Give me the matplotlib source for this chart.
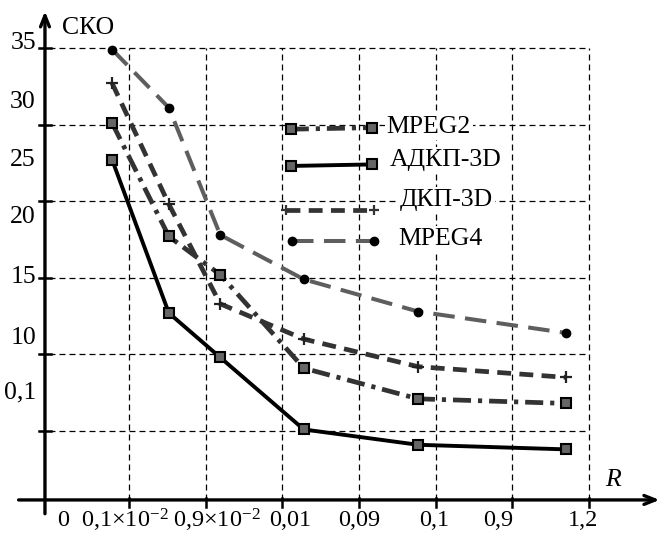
import matplotlib
matplotlib.use('Agg')
import matplotlib.pyplot as plt

plt.rcParams['font.family'] = ['Liberation Serif', 'DejaVu Serif']
plt.rcParams['mathtext.fontset'] = 'custom'
plt.rcParams['mathtext.rm'] = 'Liberation Serif'
plt.rcParams['mathtext.it'] = 'Liberation Serif:italic'
plt.rcParams['lines.scale_dashes'] = False

# ── Data (grid units: x grid lines at 1..7, y grid lines at 5..30) ─────────
x_pos = [0.78, 1.52, 2.19, 3.28, 4.77, 6.70]

mpeg4 = [29.9, 26.1, 17.8, 14.9, 12.8, 11.4]
dkp3d = [27.7, 19.8, 13.3, 11.0, 9.2, 8.5]
mpeg2 = [25.1, 17.7, 15.2, 9.1, 7.1, 6.8]
adkp3d = [22.7, 12.7, 9.8, 5.1, 4.1, 3.8]

x_grid = [1, 2, 3, 4, 5, 6, 7]
y_grid = [5, 10, 15, 20, 25, 30]

x_tick_labels = ['0', r'0,1×10$^{-2}$', r'0,9×10$^{-2}$', '0,01', '0,09',
                 '0,1', '0,9', '1,2']
x_tick_pos = [0.14, 0.94, 2.14, 3.10, 4.0, 4.98, 5.81, 6.92]

y_tick_labels = ['35', '30', '25', '20', '15', '10', '0,1']
y_tick_pos = [30.3, 26.5, 22.7, 19.0, 15.05, 11.1, 7.5]

# ── Figure: one axes covering the whole canvas ─────────────────────────────
fig = plt.figure(figsize=(6.65, 5.36), dpi=100)
ax = fig.add_axes([0, 0, 1, 1])
ax.set_xlim(-0.6825, 7.991)
ax.set_ylim(-1.854, 33.133)
ax.axis('off')

x0, y0 = -0.096, 0.5   # axis origin
FS = 18.5

# grid
grid_kw = dict(color='black', lw=0.9, dashes=(4.3, 2.9), zorder=1)
for gx in x_grid:
    ax.plot([gx, gx], [y0, y_grid[-1]], **grid_kw)
for gy in y_grid:
    ax.plot([x0 - 0.08, x_grid[-1]], [gy, gy], **grid_kw)

# axes with arrows
arrow = dict(arrowstyle='->,head_length=0.8,head_width=0.32',
             lw=2.4, color='black', shrinkA=0, shrinkB=0)
ax.annotate('', xy=(x0, 32.4), xytext=(x0, -0.4), arrowprops=arrow, zorder=5)
ax.annotate('', xy=(7.92, y0), xytext=(-0.44, y0), arrowprops=arrow, zorder=5)
for gx in x_grid:
    ax.plot([gx, gx], [y0 - 0.45, y0 + 0.15], color='black', lw=1.8, zorder=5)
for gy in y_grid:
    ax.plot([x0 - 0.08, x0 + 0.08], [gy, gy], color='black', lw=1.8, zorder=5)

# series
sq = dict(marker='s', ms=6.5, mfc='#666666', mec='black', mew=1.5)
ax.plot(x_pos, mpeg4, color='#5e5e5e', lw=2.9, dashes=(15.5, 7.5),
        marker='o', ms=6, mfc='black', mec='black', zorder=3)
ax.plot(x_pos, dkp3d, color='#333333', lw=3.4, dashes=(10, 6),
        marker='+', ms=8, mew=1.6, mec='#222222', zorder=3)
ax.plot(x_pos, mpeg2, color='#333333', lw=3.4, dashes=(13, 5, 3, 5),
        zorder=3, **sq)
ax.plot(x_pos, adkp3d, color='black', lw=2.8, zorder=4, **sq)

# legend (drawn by hand, like the original)
leg_x = [3.11, 4.17]
ax.plot(leg_x, [24.7, 24.8], color='#333333', lw=3.4, dashes=(13, 5, 3, 5),
        zorder=3, **sq)
ax.plot(leg_x, [22.3, 22.4], color='black', lw=2.8, zorder=3, **sq)
ax.plot([3.05, 4.20], [19.45, 19.45], color='#333333', lw=3.4, dashes=(10, 6),
        marker='+', ms=7, mew=1.6, zorder=3)
ax.plot([3.12, 4.20], [17.4, 17.4], color='#5e5e5e', lw=2.9, dashes=(15.5, 7.5),
        marker='o', ms=6, mfc='black', mec='black', zorder=3)
box = dict(facecolor='white', edgecolor='none', pad=1.5)
ax.text(4.36, 24.85, 'MPEG2', fontsize=FS, va='center', bbox=box, zorder=4)
ax.text(4.40, 22.7, 'АДКП-3D', fontsize=FS, va='center', bbox=box, zorder=4)
ax.text(4.53, 20.1, 'ДКП-3D', fontsize=FS, va='center', bbox=box, zorder=4)
ax.text(4.51, 17.5, 'MPEG4', fontsize=FS, va='center', bbox=box, zorder=4)

# tick labels
for lab, xp in zip(x_tick_labels, x_tick_pos):
    ax.text(xp, -0.85, lab, fontsize=17.5, ha='center', va='center')
for lab, yp in zip(y_tick_labels, y_tick_pos):
    ax.text(-0.213, yp, lab, fontsize=FS, ha='right', va='center')

ax.text(0.13, 31.3, 'СКО', fontsize=FS, ha='left', va='center')
ax.text(7.31, 1.8, 'R', fontsize=FS, style='italic', ha='center', va='center')

fig.savefig('out.png', dpi=100)
